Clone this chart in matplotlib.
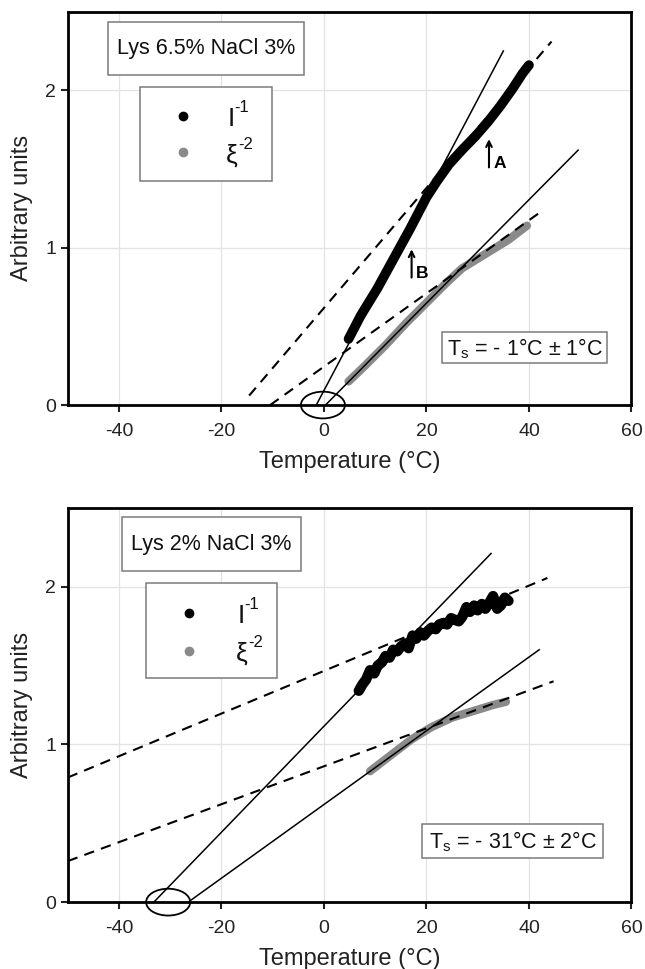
#!/usr/bin/env python3
"""Inverse intensity and inverse squared correlation length vs temperature,
two lysozyme samples, with linear extrapolations to the spinodal T_s."""
import matplotlib
matplotlib.use("Agg")
import matplotlib.pyplot as plt
from matplotlib.patches import Ellipse, Rectangle

plt.rcParams["font.family"] = ["Liberation Sans", "DejaVu Sans"]
plt.rcParams["mathtext.fontset"] = "custom"
plt.rcParams["mathtext.rm"] = "Liberation Sans"
plt.rcParams["mathtext.it"] = "Liberation Sans:italic"
plt.rcParams["axes.unicode_minus"] = False

# --- top panel: Lys 6.5% NaCl 3% -------------------------------------------
top_inv_i_t = [4.8, 7.2, 10.4, 13.6, 16.8, 18.4, 20.0, 22.0, 24.4, 27.2,
               29.6, 32.0, 34.4, 36.8, 38.8, 40.0]
top_inv_i = [0.42, 0.57, 0.74, 0.93, 1.12, 1.22, 1.32, 1.42, 1.53, 1.63,
             1.71, 1.80, 1.90, 2.01, 2.11, 2.16]
top_xi_t = [4.8, 8.0, 12.0, 16.0, 20.0, 24.0, 27.0, 30.0, 33.0, 36.0, 38.0, 39.6]
top_xi = [0.15, 0.25, 0.38, 0.52, 0.65, 0.78, 0.87, 0.93, 0.99, 1.05, 1.10, 1.14]
# fit lines as (x0, x1), (y0, y1)
top_solid = [((-1.5, 35.0), (0.0, 2.25)), ((0.3, 49.6), (0.0, 1.62))]
top_dashed = [((-14.6, 44.4), (0.06, 2.31)), ((-10.5, 42.4), (0.0, 1.23))]
top_title = "Lys 6.5% NaCl 3%"
top_ts = "T$_\\mathregular{s}$ = - 1°C ± 1°C"
top_ts_center = -0.2

# --- bottom panel: Lys 2% NaCl 3% ------------------------------------------
bot_inv_i_t = [6.8, 7.5, 8.2, 9.0, 9.8, 10.5, 11.3, 12.0, 12.8, 13.5,
               14.3, 15.0, 15.8, 16.5, 17.3, 18.0, 18.8, 19.5, 20.3, 21.0,
               21.8, 22.5, 23.3, 24.0, 24.8, 25.5, 26.3, 27.0, 27.8, 28.5,
               29.3, 30.0, 30.8, 31.5, 32.3, 33.0, 33.8, 34.5, 35.3, 36.0]
bot_inv_i = [1.34, 1.38, 1.41, 1.47, 1.45, 1.50, 1.52, 1.56, 1.55, 1.60,
             1.59, 1.62, 1.64, 1.61, 1.69, 1.67, 1.71, 1.69, 1.72, 1.74,
             1.73, 1.76, 1.77, 1.76, 1.80, 1.79, 1.78, 1.81, 1.87, 1.84,
             1.88, 1.85, 1.89, 1.86, 1.90, 1.94, 1.86, 1.88, 1.93, 1.91]
bot_xi_t = [9.0, 11.0, 13.0, 15.0, 17.0, 19.0, 21.0, 23.0, 25.0, 27.0,
            29.0, 31.0, 33.0, 35.5]
bot_xi = [0.83, 0.88, 0.93, 0.98, 1.03, 1.07, 1.11, 1.14, 1.17, 1.19,
          1.21, 1.23, 1.25, 1.27]
bot_solid = [((-33.2, 32.6), (0.0, 2.21)), ((-26.5, 42.0), (0.0, 1.60))]
bot_dashed = [((-50.0, 43.6), (0.79, 2.055)), ((-50.0, 44.8), (0.26, 1.40))]
bot_title = "Lys 2% NaCl 3%"
bot_ts = "T$_\\mathregular{s}$ = - 31°C ± 2°C"
bot_ts_center = -30.4

x_ticks = [-40, -20, 0, 20, 40, 60]
y_ticks = [0, 1, 2]
# (symbol, superscript, base dx, superscript dx) offsets in points
legend_labels = [("I", "-1", 1.5, 6.3), ("ξ", "-2", 0.0, 9.3)]
GRAY = "#8a8a8a"
EDGE = "#7a7a7a"


def frame(ax, x0, x1, y0, y1):
    ax.add_patch(Rectangle((x0, y0), x1 - x0, y1 - y0, transform=ax.transAxes,
                           fc="white", ec=EDGE, lw=1.1, zorder=5, clip_on=False))


def draw_panel(ax, inv_t, inv_i, xi_t, xi, solid, dashed, title, ts, ts_x,
               title_box, legend_box, ts_box, lw_black, arrows=False):
    ax.set_xlim(-50, 60)
    ax.set_ylim(0, 2.5)
    ax.set_xticks(x_ticks)
    ax.set_yticks(y_ticks)
    ax.grid(True, color="#e3e3e3", lw=0.9)
    ax.set_axisbelow(True)
    for s in ax.spines.values():
        s.set_linewidth(2.0)
    ax.tick_params(direction="out", length=5, width=1.5, labelsize=14,
                   colors="#222222")
    ax.tick_params(axis="x", pad=8)
    ax.set_xlabel("Temperature (°C)", fontsize=17, color="#222222", labelpad=8)
    ax.set_ylabel("Arbitrary units", fontsize=17, color="#222222", labelpad=8.5)

    for xs, ys in solid:
        ax.plot(xs, ys, color="black", lw=1.1, zorder=3)
    for xs, ys in dashed:
        ax.plot(xs, ys, color="black", lw=1.5, ls=(0, (5, 3.5)), zorder=3)

    ax.plot(xi_t, xi, color=GRAY, lw=6, solid_capstyle="round",
            solid_joinstyle="round", zorder=2)
    ax.plot(inv_t, inv_i, color="black", lw=lw_black, solid_capstyle="round",
            solid_joinstyle="round", zorder=2)

    ax.add_patch(Ellipse((ts_x, 0), 8.6, 0.17, fill=False, lw=1.3,
                         color="black", clip_on=False, zorder=4))

    # sample box
    frame(ax, *title_box)
    ax.text((title_box[0] + title_box[1]) / 2, (title_box[2] + title_box[3]) / 2,
            title, transform=ax.transAxes, fontsize=15.5, ha="center",
            va="center", color="#111111", zorder=6)

    # legend box
    lx0, lx1, ly0, ly1, mx, tx, rows = legend_box
    frame(ax, lx0, lx1, ly0, ly1)
    for (base, sup, bdx, sdx), ry, col in zip(legend_labels, rows,
                                              ["black", GRAY]):
        ax.plot([mx], [ry], "o", color=col, ms=6, transform=ax.transAxes,
                zorder=6, clip_on=False)
        ax.annotate(base, xy=(tx, ry), xycoords="axes fraction",
                    xytext=(bdx, -7.2), textcoords="offset points",
                    fontsize=19, ha="left", va="baseline", color="#111111",
                    zorder=6)
        ax.annotate(sup, xy=(tx, ry), xycoords="axes fraction",
                    xytext=(sdx, 2.8), textcoords="offset points",
                    fontsize=12, ha="left", va="baseline", color="#111111",
                    zorder=6)

    # spinodal box
    frame(ax, *ts_box)
    ax.text((ts_box[0] + ts_box[1]) / 2, (ts_box[2] + ts_box[3]) / 2 - 0.003,
            ts, transform=ax.transAxes, fontsize=15.5, ha="center",
            va="center", color="#111111", zorder=6)

    if arrows:
        for xa, ya, lab in [(32.2, 1.51, "A"), (17.1, 0.81, "B")]:
            ax.annotate("", xy=(xa, ya + 0.18), xytext=(xa, ya),
                        arrowprops=dict(arrowstyle="->", lw=1.5, color="black",
                                        shrinkA=0, shrinkB=0))
            ax.text(xa + 0.9, ya - 0.02, lab, fontsize=12.5, fontweight="bold",
                    ha="left", va="bottom")


fig = plt.figure(figsize=(6.45, 9.69), dpi=100)
ax1 = fig.add_axes([0.105, 0.582, 0.874, 0.406])
ax2 = fig.add_axes([0.105, 0.069, 0.874, 0.407])

draw_panel(ax1, top_inv_i_t, top_inv_i, top_xi_t, top_xi, top_solid,
           top_dashed, top_title, top_ts, top_ts_center,
           (0.071, 0.420, 0.840, 0.973),
           (0.128, 0.363, 0.569, 0.809, 0.204, 0.280, (0.735, 0.642)),
           (0.664, 0.957, 0.107, 0.185), 7, arrows=True)
draw_panel(ax2, bot_inv_i_t, bot_inv_i, bot_xi_t, bot_xi, bot_solid,
           bot_dashed, bot_title, bot_ts, bot_ts_center,
           (0.096, 0.414, 0.840, 0.976),
           (0.138, 0.372, 0.568, 0.809, 0.2145, 0.298, (0.734, 0.638)),
           (0.629, 0.950, 0.112, 0.198), 7.5)

fig.savefig("out.png", dpi=100)
